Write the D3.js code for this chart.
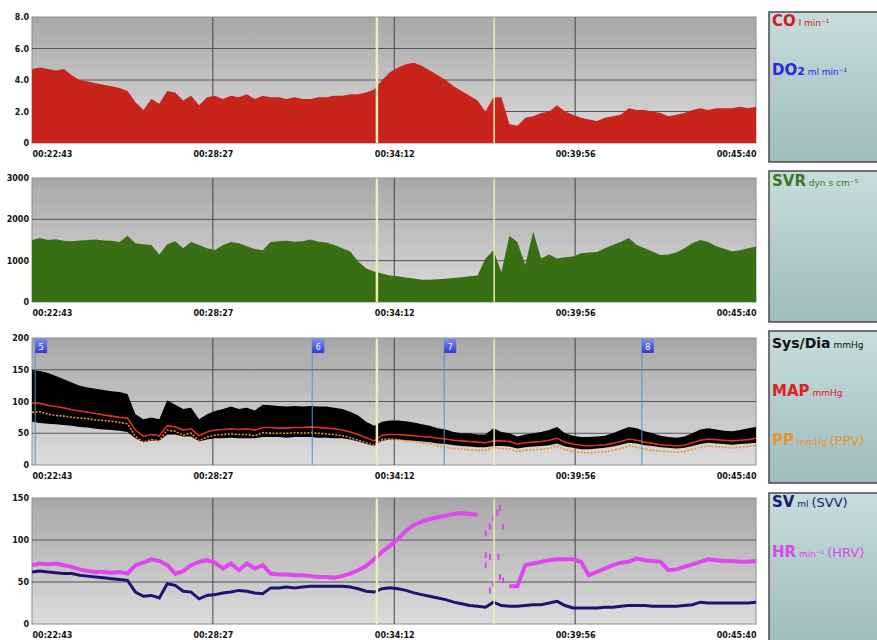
<!DOCTYPE html>
<html>
<head>
<meta charset="utf-8">
<script src="https://cdn.jsdelivr.net/npm/d3@7"></script>
<style>
body { margin: 0; background: #fff; }
svg text { font-family: "DejaVu Sans", Verdana, sans-serif; }
</style>
</head>
<body>
<div id="container"></div>
<script>
// time axis (seconds since 00:00:00)
const startSec = 1363, endSec = 2740;
const xTickSecs = [1363, 1707, 2052, 2396, 2740];
const yellowSecs = [2019, 2242];
const eventSecs = [1369, 1896, 2147, 2523];
const eventLabels = ["5", "6", "7", "8"];

// y ticks per panel
const coTicks = [0, 2, 4, 6, 8];
const coTickLabels = ["0", "2.0", "4.0", "6.0", "8.0"];
const svrTicks = [0, 1000, 2000, 3000];
const svrTickLabels = ["0", "1000", "2000", "3000"];
const bpTicks = [0, 50, 100, 150, 200];
const bpTickLabels = ["0", "50", "100", "150", "200"];
const svTicks = [0, 50, 100, 150];
const svTickLabels = ["0", "50", "100", "150"];

// series, evenly sampled from 00:22:43 to 00:45:40
const coValues = [4.7, 4.8, 4.7, 4.6, 4.7, 4.3, 4.0, 3.9, 3.8, 3.7, 3.6, 3.5, 3.3, 2.6, 2.1, 2.8, 2.5, 3.3, 3.2, 2.7,
  3.0, 2.4, 2.9, 3.0, 2.8, 3.0, 2.9, 3.1, 2.8, 3.0, 2.9, 2.9, 2.8, 2.9, 2.8, 2.8, 2.9, 2.9, 3.0, 3.0,
  3.1, 3.1, 3.2, 3.4, 4.0, 4.5, 4.8, 5.0, 5.1, 4.9, 4.6, 4.3, 4.0, 3.6, 3.3, 3.0, 2.7, 2.0, 2.9, 2.9,
  1.2, 1.1, 1.6, 1.7, 1.9, 2.0, 2.4, 2.0, 1.8, 1.6, 1.5, 1.4, 1.6, 1.7, 1.8, 2.2, 2.1, 2.1, 2.0, 1.9,
  1.7, 1.8, 1.9, 2.1, 2.2, 2.1, 2.2, 2.2, 2.2, 2.3, 2.2, 2.3];

const svrValues = [1500, 1550, 1500, 1520, 1480, 1470, 1490, 1500, 1510, 1490, 1480, 1450, 1600, 1420, 1400, 1380, 1150, 1400, 1470, 1300,
  1450, 1380, 1300, 1260, 1380, 1450, 1420, 1350, 1280, 1250, 1450, 1470, 1480, 1460, 1470, 1510, 1460, 1440, 1380, 1300,
  1220, 980, 810, 740, 690, 640, 620, 590, 570, 540, 540, 550, 560, 580, 600, 620, 640, 1050, 1250, 720,
  1600, 1450, 900, 1700, 1050, 1150, 1050, 1080, 1100, 1180, 1200, 1210, 1300, 1380, 1450, 1550, 1380, 1300, 1220, 1140,
  1150, 1200, 1300, 1420, 1500, 1450, 1350, 1290, 1220, 1250, 1300, 1340];

const sysValues = [150, 148, 145, 140, 135, 130, 125, 122, 120, 118, 116, 115, 112, 80, 72, 75, 72, 102, 95, 88,
  90, 72, 80, 85, 88, 92, 88, 90, 86, 95, 94, 93, 92, 93, 92, 93, 92, 92, 90, 88,
  84, 78, 68, 62, 68, 70, 70, 69, 67, 64, 62, 58, 56, 52, 50, 50, 48, 48, 58, 52,
  50, 45, 48, 50, 52, 55, 60, 50, 46, 44, 44, 45, 46, 50, 55, 60, 58, 53, 50, 46,
  44, 43, 45, 50, 56, 58, 56, 54, 53, 55, 58, 60];

const diaValues = [68, 66, 65, 64, 63, 62, 60, 59, 57, 56, 55, 54, 52, 42, 36, 38, 38, 48, 48, 45,
  45, 37, 40, 42, 42, 43, 42, 42, 42, 44, 44, 44, 43, 44, 44, 44, 43, 43, 42, 42,
  40, 37, 33, 30, 38, 40, 40, 39, 38, 37, 36, 34, 33, 31, 30, 29, 28, 28, 30, 30,
  29, 26, 28, 29, 30, 31, 34, 29, 27, 25, 25, 26, 27, 29, 32, 35, 34, 31, 30, 28,
  27, 26, 27, 30, 33, 35, 34, 33, 32, 33, 34, 35];

const mapValues = [98, 97, 94, 92, 90, 87, 85, 83, 81, 79, 77, 75, 74, 55, 45, 48, 46, 62, 60, 55,
  57, 46, 52, 55, 56, 57, 56, 57, 55, 59, 59, 58, 58, 59, 59, 60, 59, 58, 57, 55,
  52, 48, 43, 38, 47, 48, 48, 47, 46, 45, 44, 42, 41, 39, 38, 37, 36, 35, 38, 38,
  37, 33, 35, 36, 37, 39, 42, 36, 33, 31, 30, 31, 32, 34, 37, 41, 39, 36, 34, 32,
  31, 30, 31, 35, 39, 41, 40, 39, 38, 39, 40, 42];

const ppValues = [83, 84, 80, 78, 77, 75, 74, 73, 71, 70, 69, 67, 65, 45, 36, 40, 38, 55, 53, 47,
  50, 38, 44, 47, 48, 49, 48, 48, 46, 51, 50, 50, 50, 51, 50, 51, 50, 49, 48, 46,
  43, 39, 35, 31, 40, 41, 40, 38, 37, 35, 33, 30, 28, 26, 25, 24, 23, 23, 28, 26,
  25, 21, 23, 24, 25, 26, 30, 24, 21, 20, 19, 20, 21, 23, 26, 30, 28, 25, 23, 22,
  21, 20, 21, 25, 28, 30, 29, 28, 27, 28, 29, 31];

const hrValues = [70, 72, 71, 72, 70, 68, 65, 63, 62, 62, 61, 62, 60, 70, 73, 77, 75, 70, 60, 63,
  70, 74, 76, 73, 66, 72, 64, 72, 66, 70, 60, 59, 59, 58, 58, 57, 56, 56, 55, 57,
  60, 64, 69, 77, 86, 93, 101, 111, 118, 122, 125, 127, 129, 131, 132, 131, 130, null, null, null,
  45, 45, 70, 72, 74, 76, 77, 77, 77, 74, 58, 62, 66, 70, 73, 74, 78, 76, 75, 74,
  64, 65, 68, 71, 74, 77, 76, 75, 75, 74, 74, 75];

const svValues = [62, 63, 62, 61, 60, 60, 58, 57, 56, 55, 54, 53, 52, 38, 33, 34, 31, 48, 46, 39,
  38, 30, 34, 35, 37, 38, 40, 39, 37, 36, 43, 43, 44, 43, 44, 45, 45, 45, 45, 45,
  44, 42, 39, 38, 42, 43, 42, 40, 37, 35, 33, 31, 29, 26, 24, 22, 21, 20, 26, 22,
  21, 21, 22, 23, 23, 25, 27, 22, 19, 19, 19, 19, 20, 20, 21, 22, 22, 22, 21, 21,
  21, 21, 22, 23, 26, 25, 25, 25, 25, 25, 25, 26];

// scattered HR readings during the gap
const hrDotSecs = [2226, 2226, 2226, 2234, 2234, 2234, 2240, 2240, 2248, 2250, 2253, 2253, 2259, 2259];
const hrDotValues = [108, 82, 70, 116, 80, 40, 126, 48, 132, 80, 138, 56, 116, 52];

const width = 877, height = 640;
const n = coValues.length;
const step = (endSec - startSec) / (n - 1);
const tAt = i => startSec + i * step;

const svg = d3.select("#container")
    .append("svg")
    .attr("width", width)
    .attr("height", height);

const defs = svg.append("defs");
const bg = defs.append("linearGradient").attr("id", "plotBg")
    .attr("x1", 0).attr("y1", 0).attr("x2", 0).attr("y2", 1);
bg.append("stop").attr("offset", "0%").attr("stop-color", "#a7a7a7");
bg.append("stop").attr("offset", "100%").attr("stop-color", "#dcdcdc");

const lg = defs.append("linearGradient").attr("id", "legendBg")
    .attr("x1", 0).attr("y1", 0).attr("x2", 0).attr("y2", 1);
lg.append("stop").attr("offset", "0%").attr("stop-color", "#c8dcdd");
lg.append("stop").attr("offset", "100%").attr("stop-color", "#9dbbbd");

const mk = defs.append("linearGradient").attr("id", "markerBg")
    .attr("x1", 0).attr("y1", 0).attr("x2", 0).attr("y2", 1);
mk.append("stop").attr("offset", "0%").attr("stop-color", "#7d8cf2");
mk.append("stop").attr("offset", "100%").attr("stop-color", "#2f3ec6");

const x = d3.scaleLinear().domain([startSec, endSec]).range([32, 756]);

const fmtTime = s => {
    const h = Math.floor(s / 3600), m = Math.floor((s % 3600) / 60), sec = s % 60;
    return [h, m, sec].map(v => String(v).padStart(2, "0")).join(":");
};

const panels = [
    { top: 17, bottom: 143, max: 8, ticks: coTicks, labels: coTickLabels },
    { top: 178, bottom: 302, max: 3000, ticks: svrTicks, labels: svrTickLabels },
    { top: 338, bottom: 465, max: 200, ticks: bpTicks, labels: bpTickLabels },
    { top: 498, bottom: 624, max: 150, ticks: svTicks, labels: svTickLabels }
];

panels.forEach((p, k) => {
    p.y = d3.scaleLinear().domain([0, p.max]).range([p.bottom, p.top]);
    const g = svg.append("g");
    p.g = g;

    g.append("rect")
        .attr("x", 32).attr("y", p.top)
        .attr("width", 724).attr("height", p.bottom - p.top)
        .attr("fill", "url(#plotBg)")
        .attr("stroke", "#8e8e8e");

    // grid
    g.append("g").selectAll("line")
        .data(p.ticks.slice(1, -1))
        .join("line")
        .attr("x1", 32).attr("x2", 756)
        .attr("y1", d => p.y(d)).attr("y2", d => p.y(d))
        .attr("stroke", "#555").attr("stroke-width", 1);
    g.append("g").selectAll("line")
        .data(xTickSecs.slice(1, -1))
        .join("line")
        .attr("x1", d => x(d)).attr("x2", d => x(d))
        .attr("y1", p.top).attr("y2", p.bottom)
        .attr("stroke", "#444").attr("stroke-width", 1);

    // axes labels
    const ya = g.append("g")
        .attr("transform", "translate(29,0)")
        .call(d3.axisLeft(p.y).tickValues(p.ticks).tickFormat((d, i) => p.labels[i]).tickSize(0).tickPadding(0));
    ya.select(".domain").remove();
    ya.selectAll("text")
        .attr("font-size", 8).attr("font-weight", "bold").attr("fill", "#111")
        .attr("font-family", "DejaVu Sans");

    const xa = g.append("g")
        .attr("transform", `translate(0,${p.bottom + 5})`)
        .call(d3.axisBottom(x).tickValues(xTickSecs).tickFormat(fmtTime).tickSize(0).tickPadding(3));
    xa.select(".domain").remove();
    xa.selectAll("text")
        .attr("font-size", 8).attr("font-weight", "bold").attr("fill", "#111")
        .attr("font-family", "DejaVu Sans")
        .attr("text-anchor", (d, i) => i === 0 ? "start" : i === xTickSecs.length - 1 ? "end" : "middle");
});

// CO area
const p1 = panels[0];
p1.g.append("path")
    .datum(coValues)
    .attr("fill", "#c8241c")
    .attr("d", d3.area().x((d, i) => x(tAt(i))).y0(p1.y(0)).y1(d => p1.y(d)));

// SVR area
const p2 = panels[1];
p2.g.append("path")
    .datum(svrValues)
    .attr("fill", "#386e14")
    .attr("d", d3.area().x((d, i) => x(tAt(i))).y0(p2.y(0)).y1(d => p2.y(d)));

// BP band + lines
const p3 = panels[2];
p3.g.append("path")
    .datum(sysValues)
    .attr("fill", "#000")
    .attr("d", d3.area().x((d, i) => x(tAt(i))).y0((d, i) => p3.y(diaValues[i])).y1(d => p3.y(d)));
p3.g.append("path")
    .datum(ppValues)
    .attr("fill", "none")
    .attr("stroke", "#e8952c")
    .attr("stroke-width", 1.6)
    .attr("stroke-dasharray", "2,1.5")
    .attr("d", d3.line().x((d, i) => x(tAt(i))).y(d => p3.y(d)));
p3.g.append("path")
    .datum(mapValues)
    .attr("fill", "none")
    .attr("stroke", "#e2301c")
    .attr("stroke-width", 1.6)
    .attr("d", d3.line().x((d, i) => x(tAt(i))).y(d => p3.y(d)));

// SV / HR
const p4 = panels[3];
p4.g.append("path")
    .datum(hrValues)
    .attr("fill", "none")
    .attr("stroke", "#e046f0")
    .attr("stroke-width", 4)
    .attr("d", d3.line().defined(d => d !== null).x((d, i) => x(tAt(i))).y(d => p4.y(d)));
p4.g.append("g").selectAll("rect")
    .data(hrDotSecs)
    .join("rect")
    .attr("x", d => x(d) - 1)
    .attr("y", (d, i) => p4.y(hrDotValues[i]) - 3)
    .attr("width", 2).attr("height", 6)
    .attr("fill", "#e046f0");
p4.g.append("path")
    .datum(svValues)
    .attr("fill", "none")
    .attr("stroke", "#1e1470")
    .attr("stroke-width", 3)
    .attr("d", d3.line().x((d, i) => x(tAt(i))).y(d => p4.y(d)));

// yellow markers across all panels
panels.forEach(p => {
    p.g.append("g").selectAll("line")
        .data(yellowSecs)
        .join("line")
        .attr("x1", d => x(d)).attr("x2", d => x(d))
        .attr("y1", p.top + 0.5).attr("y2", p.bottom)
        .attr("stroke", "#ececb4")
        .attr("stroke-width", (d, i) => i === 0 ? 2.5 : 1.5);
});

// event markers in BP panel
const ev = p3.g.append("g").selectAll("g")
    .data(eventSecs)
    .join("g")
    .attr("transform", d => `translate(${x(d)},0)`);
ev.append("line")
    .attr("x1", 0).attr("x2", 0)
    .attr("y1", p3.top).attr("y2", p3.bottom)
    .attr("stroke", "#5d8bd8").attr("stroke-width", 1);
ev.append("rect")
    .attr("x", 0).attr("y", p3.top + 1)
    .attr("width", 12).attr("height", 14)
    .attr("fill", "url(#markerBg)");
ev.append("text")
    .attr("x", 6).attr("y", p3.top + 11.5)
    .attr("text-anchor", "middle")
    .attr("font-size", 8).attr("fill", "#fff")
    .text((d, i) => eventLabels[i]);

// legend boxes
const boxTops = [12, 171, 331, 493];
const boxHeights = [150, 151, 152, 150];
svg.append("g").selectAll("rect")
    .data(boxTops)
    .join("rect")
    .attr("x", 769).attr("y", d => d)
    .attr("width", 120).attr("height", (d, i) => boxHeights[i])
    .attr("fill", "url(#legendBg)")
    .attr("stroke", "#4a4a4a").attr("stroke-width", 1.5);

const legendItems = [
    { y: 26, color: "#cc2020", parts: [["CO", 15, "bold"], [" l min\u207B\u00B9", 9, "normal"]] },
    { y: 75, color: "#2a28e0", parts: [["DO", 15, "bold"], ["2", 11, "bold"], [" ml min\u207B\u00B9", 9, "normal"]] },
    { y: 186, color: "#3c7a1e", parts: [["SVR", 15, "bold"], [" dyn s cm\u207B\u2075", 9, "normal"]] },
    { y: 348, color: "#111", parts: [["Sys/Dia", 14, "bold"], [" mmHg", 9, "normal"]] },
    { y: 396, color: "#de2222", parts: [["MAP", 15, "bold"], [" mmHg", 9, "normal"]] },
    { y: 445, color: "#e8962a", parts: [["PP", 15, "bold"], [" mmHg ", 9, "normal"], ["(PPV)", 13, "normal"]] },
    { y: 507, color: "#1e1a70", parts: [["SV", 15, "bold"], [" ml ", 9, "normal"], ["(SVV)", 13, "normal"]] },
    { y: 557, color: "#d84ae8", parts: [["HR", 15, "bold"], [" min\u207B\u00B9 ", 9, "normal"], ["(HRV)", 13, "normal"]] }
];

const lt = svg.append("g").selectAll("text")
    .data(legendItems)
    .join("text")
    .attr("x", 772).attr("y", d => d.y)
    .attr("fill", d => d.color);
lt.selectAll("tspan")
    .data(d => d.parts)
    .join("tspan")
    .attr("font-size", d => d[1])
    .attr("font-weight", d => d[2])
    .text(d => d[0]);
</script>
</body>
</html>
